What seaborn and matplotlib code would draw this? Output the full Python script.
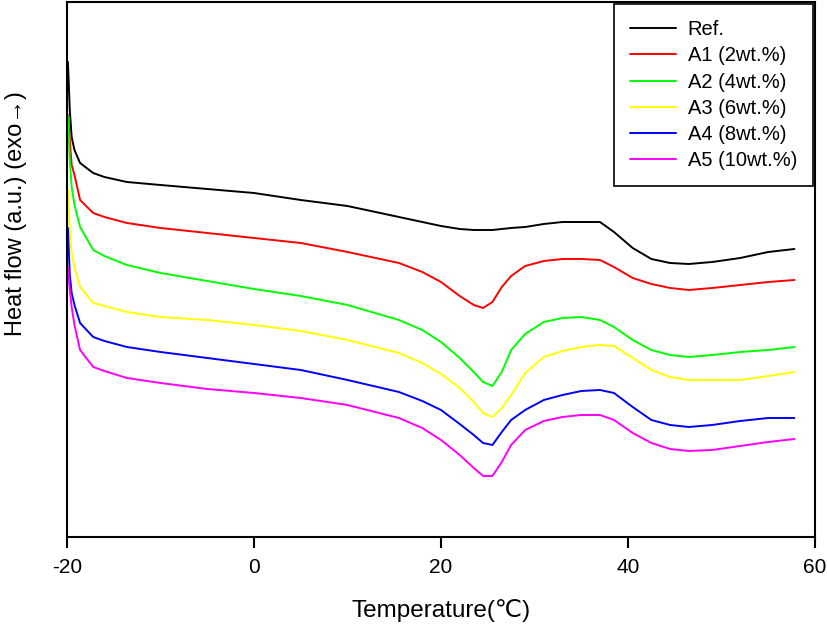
import numpy as np
import pandas as pd
import matplotlib
matplotlib.use("Agg")
import matplotlib.pyplot as plt
import seaborn as sns

# temperature grid (°C) and heat flow curves (arbitrary units)
temperature = [-19.9, -19.7, -19.5, -19.2, -18.6, -17.2, -16, -13.6, -10, -5, 0,
               5, 10, 15.5, 18, 20, 22, 23.5, 24.5, 25.5, 26.5,
               27.5, 29, 31, 33, 35, 37, 38.5, 40.5, 42.5, 44.5,
               46.5, 49, 52, 55, 57.8]

ref = [475, 427, 400, 387, 374, 364, 360, 355, 352, 348, 344,
       337, 331, 320, 315, 311, 308, 307, 307, 307, 308,
       309, 310, 313, 315, 315, 315, 305, 289, 278, 274,
       273, 275, 279, 285, 288]
a1 = [422, 397, 372, 362, 337, 324, 320, 314, 309, 304, 299,
      294, 285, 274, 265, 255, 241, 232, 229, 235, 250,
      261, 271, 276, 278, 278, 277, 270, 259, 253, 249,
      247, 249, 252, 255, 257]
a2 = [421, 377, 350, 332, 310, 287, 281, 272, 264, 256, 248,
      241, 232, 217, 207, 195, 179, 165, 155, 151, 165,
      187, 203, 215, 219, 220, 217, 210, 197, 187, 182,
      180, 182, 185, 187, 190]
a3 = [347, 307, 284, 269, 250, 234, 231, 225, 220, 217, 212,
      206, 197, 184, 174, 163, 149, 135, 124, 120, 129,
      142, 164, 180, 186, 190, 192, 191, 179, 167, 160,
      157, 157, 157, 161, 165]
a4 = [309, 262, 244, 232, 214, 200, 196, 190, 185, 179, 173,
      167, 157, 145, 136, 127, 113, 102, 94, 92, 105,
      117, 127, 137, 142, 146, 147, 144, 130, 117, 112,
      110, 112, 116, 119, 119]
a5 = [270, 247, 230, 212, 187, 170, 166, 159, 154, 148, 144,
      139, 132, 119, 109, 97, 82, 69, 61, 61, 75,
      92, 107, 116, 120, 122, 122, 117, 104, 94, 88,
      86, 87, 91, 95, 98]

labels = ["Ref.", "A1 (2wt.%)", "A2 (4wt.%)", "A3 (6wt.%)", "A4 (8wt.%)", "A5 (10wt.%)"]
colors = ["#000000", "#ff0000", "#00ff00", "#ffff00", "#0000ff", "#ff00ff"]

frames = []
for lab, vals in zip(labels, [ref, a1, a2, a3, a4, a5]):
    frames.append(pd.DataFrame({"T": temperature, "heat": vals, "sample": lab}))
df = pd.concat(frames, ignore_index=True)

sns.set_style("white")
plt.rcParams["font.family"] = ["Liberation Sans", "DejaVu Sans"]
plt.rcParams["axes.unicode_minus"] = False
plt.rcParams["text.color"] = "black"
plt.rcParams["axes.labelcolor"] = "black"

fig = plt.figure(figsize=(8.27, 6.26), dpi=100)
ax = fig.add_axes([0.081, 0.1422, 0.9045, 0.8546])

sns.lineplot(data=df, x="T", y="heat", hue="sample", palette=colors,
             hue_order=labels, sort=False, linewidth=1.4, ax=ax)

ax.set_xlim(-20, 60)
ax.set_ylim(0, 535)
ax.set_xticks([-20, 0, 20, 40, 60])
ax.set_yticks([])
ax.tick_params(axis="x", direction="out", length=8, width=1.5,
               labelsize=15, pad=7, bottom=True, colors="black")
for s in ax.spines.values():
    s.set_visible(True)
    s.set_color("black")
    s.set_linewidth(1.5)

ax.set_xlabel("Temperature(℃)", fontsize=17.5, labelpad=16)
ax.set_ylabel("Heat flow (a.u.) (exo→)", fontsize=17)
ax.yaxis.set_label_coords(-0.053, 0.604)

leg = ax.legend(loc="upper right", fontsize=14.5, frameon=True, fancybox=False,
                edgecolor="black", borderaxespad=0.1, labelspacing=0.36,
                handlelength=2.3, handletextpad=0.55, borderpad=0.8)
leg.get_frame().set_linewidth(1.2)
leg.get_frame().set_alpha(1)

fig.savefig("out.png", dpi=100)
